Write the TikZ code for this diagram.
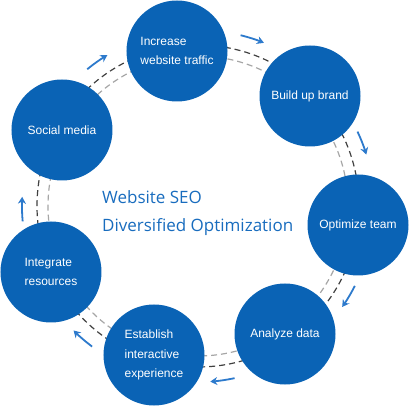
\documentclass[tikz,border=0pt]{standalone}
\usepackage{fontspec}
\setsansfont{Liberation Sans}
\newfontfamily\seofont{Open Sans}
\usetikzlibrary{arrows.meta}
\definecolor{seoblue}{RGB}{10,99,181}
\definecolor{seoarrow}{RGB}{45,122,204}
\definecolor{seotext}{RGB}{24,108,190}

\begin{document}
\begin{tikzpicture}[x=1pt,y=1pt,
  stage/.style={circle,fill=seoblue,minimum size=101pt,inner sep=0pt,
    text=white,align=left,font=\sffamily\fontsize{12}{19.5}\selectfont},
  turn/.style={seoarrow,line width=1.8pt,-{Stealth[length=7pt,width=8pt]}},
  title/.style={anchor=west,text=seotext,inner sep=0pt,
    font=\seofont\fontsize{17}{20}\selectfont}]
\useasboundingbox (-198,-200) rectangle (211,206);
% dashed rings behind the stages
\draw[black!75,line width=1.2pt,dash pattern=on 6pt off 4pt] (0,0) circle (161);
\draw[black!35,line width=1.2pt,dash pattern=on 6pt off 4pt] (0,0) circle (150);

% stages, clockwise from the top
\node[stage] (traffic) at (-21,155) {Increase\\website traffic};
\node[stage] (brand) at (112,110) {Build up brand};
\node[stage] (team) at (160,-19) {Optimize team};
\node[stage] (data) at (87,-128) {Analyze data};
\node[stage] (exp) at (-44,-149) {Establish\\interactive\\experience};
\node[stage] (res) at (-147,-66) {Integrate\\resources};
\node[stage] (social) at (-136,76) {Social media};

% small arrows between the stages
\foreach \a in {72,21,-31,-82,-131,-179,125} {
  \draw[turn] (\a+4:176) arc[start angle=\a+4,end angle=\a-4,radius=176];
}

% title in the middle
\node[title] (seo) at (-96,9) {Website SEO};
\node[title] (opt) at (-96,-21) {Diversified Optimization};
\end{tikzpicture}
\end{document}
